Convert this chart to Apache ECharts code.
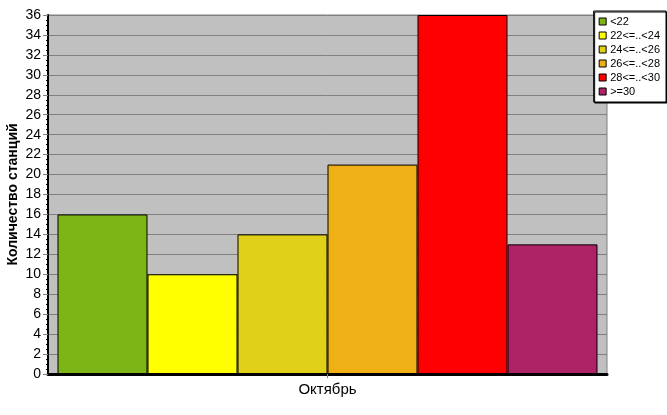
<!DOCTYPE html>
<html><head><meta charset="utf-8">
<script src="https://cdn.jsdelivr.net/npm/echarts@6/dist/echarts.min.js"></script>
<style>html,body{margin:0;padding:0;background:#fff}#c{width:667px;height:415px}</style>
</head><body><div id="c"></div>
<script>
var categories = ['Октябрь'];
var seriesNames = ['<22', '22<=..<24', '24<=..<26', '26<=..<28', '28<=..<30', '>=30'];
var seriesValues = [16, 10, 14, 21, 36, 13];
var seriesColors = ['#7DB516', '#FFFF00', '#E0D01A', '#EEB014', '#FF0000', '#AE2266'];
var yTicks = {min: 0, max: 36, interval: 2};

var chart = echarts.init(document.getElementById('c'), null, {renderer: 'canvas'});
var series = seriesNames.map(function (n, i) {
  return {
    name: n, type: 'bar', data: [seriesValues[i]],
    barGap: '0%', barCategoryGap: '3.4%',
    itemStyle: {color: seriesColors[i], borderColor: '#000', borderWidth: 1},
    emphasis: {disabled: true}
  };
});
chart.setOption({
  animation: false,
  grid: {left: 48, top: 15, right: 60, bottom: 41, containLabel: false, outerBoundsMode: 'none',
         show: true, backgroundColor: '#C0C0C0', borderColor: '#808080', borderWidth: 1},
  legend: {
    orient: 'vertical', right: 1, top: 11,
    backgroundColor: '#fff', borderColor: '#000', borderWidth: 1,
    shadowColor: '#000', shadowOffsetX: 1, shadowOffsetY: 1, shadowBlur: 0,
    padding: [5, 6, 5, 5], itemWidth: 7, itemHeight: 7, itemGap: 3,
    icon: 'rect',
    itemStyle: {borderColor: '#000', borderWidth: 1},
    textStyle: {fontFamily: 'Liberation Sans, Arial', fontSize: 11, color: '#000', padding: [0, 0, 0, -1]},
    data: seriesNames
  },
  xAxis: {
    type: 'category', data: categories,
    axisLine: {lineStyle: {color: '#000', width: 3}},
    axisTick: {show: true, alignWithLabel: true, length: 4, lineStyle: {color: '#808080'}},
    axisLabel: {fontFamily: 'Liberation Sans, Arial', fontSize: 15, color: '#000', margin: 8},
    splitLine: {show: false}
  },
  yAxis: {
    type: 'value', min: yTicks.min, max: yTicks.max, interval: yTicks.interval,
    name: 'Количество станций', nameLocation: 'middle', nameGap: 28, nameMoveOverlap: false,
    nameTextStyle: {fontFamily: 'Liberation Sans, Arial', fontSize: 14, fontWeight: 'bold', color: '#000'},
    axisLine: {show: true, lineStyle: {color: '#000', width: 2}},
    axisTick: {show: true, length: 5, lineStyle: {color: '#808080'}},
    minorTick: {show: true, splitNumber: 4, length: 2, lineStyle: {color: '#000'}},
    axisLabel: {fontFamily: 'Liberation Sans, Arial', fontSize: 14, color: '#000', margin: 7},
    splitLine: {show: true, lineStyle: {color: '#808080', width: 1}}
  },
  series: series
});
</script></body></html>
